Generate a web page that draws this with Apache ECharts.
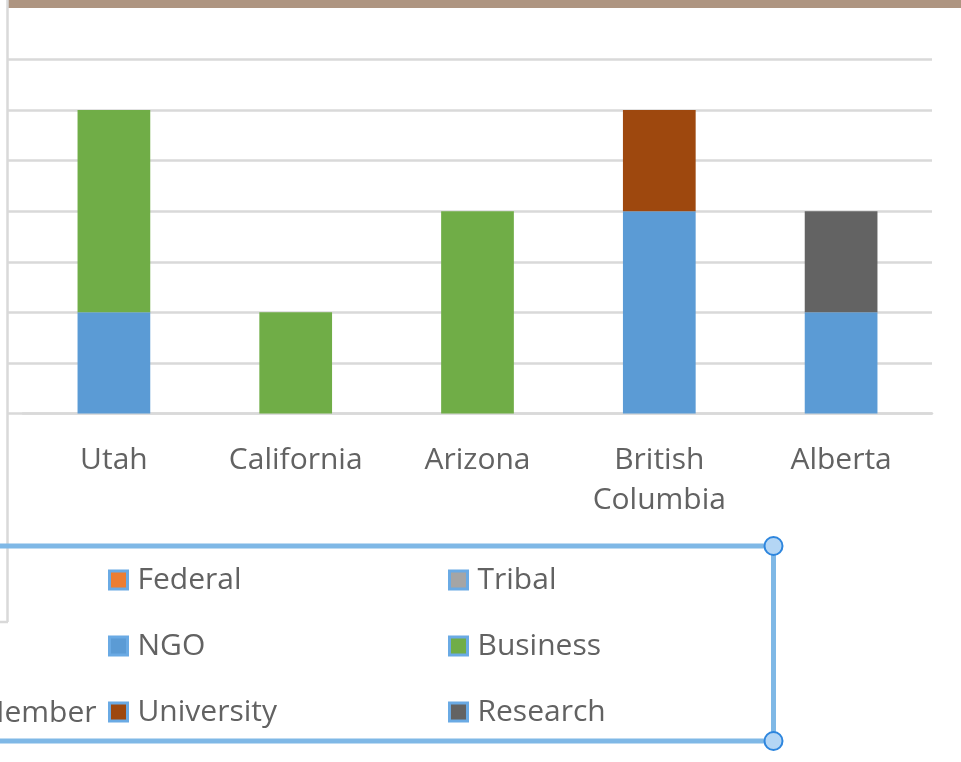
<!DOCTYPE html>
<html>
<head>
<meta charset="utf-8">
<script src="https://cdn.jsdelivr.net/npm/echarts@6/dist/echarts.min.js"></script>
<style>
  html, body { margin: 0; padding: 0; background: #fff; }
  #main { width: 961px; height: 762px; }
</style>
</head>
<body>
<div id="main"></div>
<script>
// states / provinces along the x axis
const categories = ['Utah', 'California', 'Arizona', 'British\nColumbia', 'Alberta'];

// partner counts per category (stacked)
const federal    = [0, 0, 0, 0, 0];
const tribal     = [0, 0, 0, 0, 0];
const ngo        = [1, 0, 0, 2, 1];
const business   = [2, 1, 2, 0, 0];
const university = [0, 0, 0, 1, 0];
const research   = [0, 0, 0, 0, 1];
const member     = [0, 0, 0, 0, 0];

const colors = {
  Federal: '#ED7D31', Tribal: '#A5A5A5', NGO: '#5B9BD5',
  Business: '#70AD47', University: '#9E480E', Research: '#636363', Member: '#4472C4'
};

const textColor = '#626262';
const gridColor = '#D9D9D9';
const selBlue = '#7FB8E6';

function bar(name, data) {
  return {
    name: name, type: 'bar', stack: 'all', data: data,
    barWidth: '40%', itemStyle: { color: colors[name] },
    xAxisIndex: 0, yAxisIndex: 0
  };
}

function legendItem(name) {
  return { name: name, itemStyle: { borderColor: '#6AAAE4', borderWidth: 3 } };
}

const legendText = { color: textColor, fontSize: 30, fontFamily: 'Open Sans', padding: [0, 0, 0, 5] };

let myChart = echarts.init(document.getElementById('main'));

let option = {
  animation: false,
  color: Object.values(colors),
  grid: [
    { left: 23, right: 29, top: 59.5, height: 354 },
    { left: 8, width: 15, top: 59.5, height: 354 }
  ],
  xAxis: [
    {
      type: 'category', gridIndex: 0, data: categories,
      axisLine: { lineStyle: { color: gridColor, width: 2.5 } },
      axisTick: { show: false },
      axisLabel: { color: textColor, fontSize: 30, fontFamily: 'Open Sans', margin: 27, lineHeight: 40, interval: 0 }
    },
    { type: 'value', gridIndex: 1, show: false }
  ],
  yAxis: [
    {
      type: 'value', gridIndex: 0, min: 0, max: 3.5, interval: 0.5,
      axisLabel: { show: false }, axisLine: { show: false }, axisTick: { show: false },
      splitLine: { lineStyle: { color: gridColor, width: 2.5 } }
    },
    {
      type: 'value', gridIndex: 1, min: 0, max: 3.5, interval: 0.5,
      axisLabel: { show: false }, axisLine: { show: false }, axisTick: { show: false },
      splitLine: { lineStyle: { color: gridColor, width: 2.5 } }
    }
  ],
  legend: [
    {
      data: ['Federal', 'NGO', 'University'].map(legendItem),
      orient: 'vertical', left: 103, top: 560, itemGap: 36,
      itemWidth: 18, itemHeight: 18, icon: 'rect', textStyle: legendText
    },
    {
      data: ['Tribal', 'Business', 'Research'].map(legendItem),
      orient: 'vertical', left: 443, top: 560, itemGap: 36,
      itemWidth: 18, itemHeight: 18, icon: 'rect', textStyle: legendText
    },
    {
      data: ['Member'].map(legendItem),
      orient: 'vertical', left: -57, top: 693,
      itemWidth: 18, itemHeight: 18, icon: 'rect', textStyle: legendText
    }
  ],
  graphic: [
    { type: 'rect', shape: { x: 8, y: 0, width: 953, height: 8 }, style: { fill: '#AE9581' }, silent: true },
    { type: 'line', shape: { x1: 7.5, y1: 0, x2: 7.5, y2: 622 }, style: { stroke: gridColor, lineWidth: 2.5 }, silent: true },
    { type: 'line', shape: { x1: 0, y1: 622, x2: 8, y2: 622 }, style: { stroke: gridColor, lineWidth: 2.5 }, silent: true },
    { type: 'polyline', shape: { points: [[0, 546], [773.5, 546], [773.5, 741], [0, 741]] },
      style: { stroke: selBlue, lineWidth: 5, fill: null }, silent: true, z: 10 },
    { type: 'circle', shape: { cx: 773.5, cy: 546, r: 9 }, style: { fill: '#B4D6F5', stroke: '#2E86DE', lineWidth: 2 }, silent: true, z: 11 },
    { type: 'circle', shape: { cx: 773.5, cy: 741, r: 9 }, style: { fill: '#B4D6F5', stroke: '#2E86DE', lineWidth: 2 }, silent: true, z: 11 }
  ],
  series: [
    bar('Federal', federal),
    bar('Tribal', tribal),
    bar('NGO', ngo),
    bar('Business', business),
    bar('University', university),
    bar('Research', research),
    bar('Member', member)
  ]
};

myChart.setOption(option);
</script>
</body>
</html>
